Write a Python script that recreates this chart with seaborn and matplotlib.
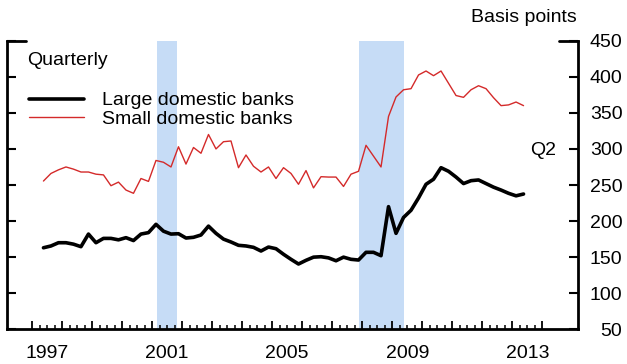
import numpy as np
import pandas as pd
import matplotlib
matplotlib.use("Agg")
import matplotlib.pyplot as plt
import seaborn as sns
from matplotlib.ticker import FixedLocator, FixedFormatter, NullFormatter

# ---- data (basis points, quarterly 1997Q2 - 2013Q2) ----
quarters = pd.period_range("1997Q2", "2013Q2", freq="Q")
large_banks = [163, 165.5, 170, 170, 168, 164.5, 182, 170, 176, 176, 174, 177, 173, 182, 184,
               195.5, 186, 182, 182.5, 176.5, 177.5,
               180.7, 193, 183, 175, 171, 166.4, 165.5, 163.6, 158.5, 164, 161.7, 154, 147, 140.5,
               145.6, 150, 150.6, 149, 145, 150, 147,
               146, 156.7, 156.7, 152, 220, 183, 205, 215, 232, 251, 258, 274, 269, 261, 252, 256,
               257, 252, 247, 243, 238.5, 235, 237.5]
small_banks = [255.5, 266, 271, 275, 272, 268, 268, 265, 264, 249, 254, 243, 238.5, 259, 255,
               284, 281.5, 275, 303, 279, 302,
               294, 320, 300, 310, 311, 274, 291.6, 276, 268, 275, 259, 274, 266, 251, 270, 246,
               261.5, 261, 261, 248, 265,
               269, 305, 290, 275, 345, 372, 382, 383.5, 402.5, 408, 401.5, 408, 391, 374, 371.5,
               382, 387.6, 383.5, 371, 360, 361, 365, 360]
recessions = [(2001.17, 2001.83), (2007.88, 2009.38)]
year_ticks = list(range(1997, 2015))
label_years = [1997, 2001, 2005, 2009, 2013]
y_ticks = [50, 100, 150, 200, 250, 300, 350, 400, 450]

t = quarters.year + (quarters.quarter - 1) / 4 + 0.125
df = pd.DataFrame({"t": np.concatenate([t, t]),
                   "value": large_banks + small_banks,
                   "series": ["Large domestic banks"] * len(t) + ["Small domestic banks"] * len(t)})

sns.set_theme(style="white")
plt.rcParams["font.family"] = ["Liberation Sans", "DejaVu Sans"]
plt.rcParams["text.color"] = "black"
plt.rcParams["xtick.color"] = "black"
plt.rcParams["ytick.color"] = "black"
plt.rcParams["axes.labelcolor"] = "black"

fig = plt.figure(figsize=(6.27, 3.64), dpi=100)
ax = fig.add_axes([7 / 627, 1 - 329.3 / 364, 571 / 627, 288.6 / 364])

for a, b in recessions:
    ax.axvspan(a, b, color="#c6dcf6", lw=0, zorder=0)

sns.lineplot(data=df, x="t", y="value", hue="series", size="series",
             palette={"Large domestic banks": "black", "Small domestic banks": "#d42a2a"},
             sizes={"Large domestic banks": 2.6, "Small domestic banks": 1.0},
             ax=ax, legend=True, zorder=3)

ax.set_xlim(1996.16, 2015.19)
ax.set_ylim(50, 450)
ax.set_xlabel("")
ax.set_ylabel("")

# spines
for s in ["left", "right", "bottom"]:
    ax.spines[s].set_visible(True)
    ax.spines[s].set_linewidth(2.0)
    ax.spines[s].set_color("black")
ax.spines["top"].set_visible(False)

# x ticks: years (major) and quarters (minor); labels at mid-year
minor_pos = [y + q for y in range(1997, 2014) for q in (0.25, 0.5, 0.75)]
minor_labels = [str(int(p)) if (p % 1 == 0.5 and int(p) in label_years) else "" for p in minor_pos]
ax.xaxis.set_major_locator(FixedLocator(year_ticks))
ax.xaxis.set_major_formatter(NullFormatter())
ax.xaxis.set_minor_locator(FixedLocator(minor_pos))
ax.xaxis.set_minor_formatter(FixedFormatter(minor_labels))
ax.tick_params(axis="x", which="major", direction="in", length=5.5, width=1.3, bottom=True,
               color="black")
ax.tick_params(axis="x", which="minor", direction="in", length=3, width=1.1, bottom=True,
               labelsize=14, pad=11, color="black", labelcolor="black")

# y ticks on both sides, labels on right
ax.set_yticks(y_ticks)
ax.yaxis.set_ticks_position("both")
ax.tick_params(axis="y", which="major", direction="in", length=6.5, width=1.5,
               left=True, right=True, labelleft=False, labelright=True, labelsize=14, pad=32,
               color="black", labelcolor="black")
for lab in ax.get_yticklabels():
    lab.set_ha("right")

# top bracket lines
ax.plot([0, 19 / 571], [1, 1], transform=ax.transAxes, color="black", lw=2.0, clip_on=False)
ax.plot([1 - 19 / 571, 1], [1, 1], transform=ax.transAxes, color="black", lw=2.0, clip_on=False)

# legend
handles, labels = ax.get_legend_handles_labels()
leg = ax.legend(handles, labels, loc="upper left", bbox_to_anchor=(22 / 571, 1 - 51 / 288.6),
                frameon=False, fontsize=14, handlelength=2.85, handletextpad=0.9,
                labelspacing=0.05, borderpad=0, borderaxespad=0)
for txt in leg.get_texts():
    txt.set_color("black")

ax.text(19.7 / 571, 0.933, "Quarterly", transform=ax.transAxes, fontsize=14,
        ha="left", va="center", color="black")
ax.text(2013.59, 298.5, "Q2", fontsize=14, ha="left", va="center", color="black")
fig.text(577 / 627, 1 - 17 / 364, "Basis points", fontsize=14, ha="right", va="center",
         color="black")

fig.savefig("out.png", dpi=100)
